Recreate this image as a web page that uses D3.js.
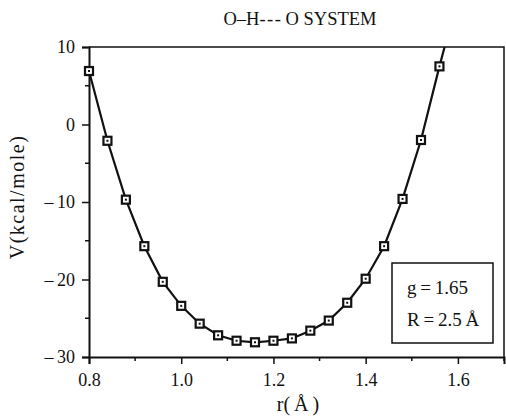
<!DOCTYPE html>
<html>
<head>
<meta charset="utf-8">
<script src="https://cdn.jsdelivr.net/npm/d3@7"></script>
<style>
  body { margin: 0; background: #fff; }
  svg { display: block; }
  svg text { font-family: "Liberation Serif", "Times New Roman", Times, "DejaVu Serif", serif; fill: #111; }
</style>
</head>
<body>
<div id="chart"></div>
<script>
// values
var rValues = [0.80, 0.84, 0.88, 0.92, 0.96, 1.00, 1.04, 1.08, 1.12, 1.16,
               1.20, 1.24, 1.28, 1.32, 1.36, 1.40, 1.44, 1.48, 1.52, 1.56];
var vValues = [6.9, -2.1, -9.7, -15.7, -20.3, -23.4, -25.7, -27.2, -27.9, -28.1,
               -27.9, -27.6, -26.6, -25.3, -23.0, -19.9, -15.7, -9.6, -2.0, 7.5];
// curve keeps going past the last marker, up out of the frame
var tailR = [1.56, 1.58];
var tailV = [7.5, 12.0];
var xTicks = [0.8, 1.0, 1.2, 1.4, 1.6];
var xMinor = [0.9, 1.1, 1.3, 1.5, 1.7];
var yTicks = [10, 0, -10, -20, -30];
var yMinor = [5, -5, -15, -25];
var legendLines = ["g\u2009=\u20091.65", "R\u2009=\u20092.5\u2009\u00c5"];

var W = 506, H = 417;
var margin = {top: 47, right: 2, bottom: 60, left: 89};

var svg = d3.select("#chart").append("svg")
    .attr("width", W)
    .attr("height", H);

var x = d3.scaleLinear().domain([0.8, 1.7]).range([margin.left, W - margin.right]);
var y = d3.scaleLinear().domain([-30, 10]).range([H - margin.bottom, margin.top]);

// frame top + right
svg.append("path")
    .attr("d", "M" + x(0.8) + "," + y(10) + "H" + x(1.7) + "V" + y(-30))
    .attr("fill", "none")
    .attr("stroke", "#111")
    .attr("stroke-width", 1.5);

// clip for the curve
svg.append("clipPath").attr("id", "plotclip")
  .append("rect")
    .attr("x", x(0.8) - 6).attr("y", y(10))
    .attr("width", x(1.7) - x(0.8) + 6).attr("height", y(-30) - y(10));

// x axis
var xAxis = svg.append("g")
    .attr("transform", "translate(0," + y(-30) + ")")
    .call(d3.axisBottom(x).tickValues(xTicks).tickSize(7).tickPadding(9)
        .tickFormat(d3.format(".1f")));
xAxis.append("g").selectAll("line")
    .data(xMinor).enter().append("line")
    .attr("x1", function(d) { return x(d); })
    .attr("x2", function(d) { return x(d); })
    .attr("y1", 0).attr("y2", 4)
    .attr("stroke", "#111").attr("stroke-width", 1.5);

// y axis
var yAxis = svg.append("g")
    .attr("transform", "translate(" + x(0.8) + ",0)")
    .call(d3.axisLeft(y).tickValues(yTicks).tickSize(7).tickPadding(7)
        .tickFormat(function(d) { return d < 0 ? "\u2013\u2009" + Math.abs(d) : d; }));
yAxis.append("g").selectAll("line")
    .data(yMinor).enter().append("line")
    .attr("y1", function(d) { return y(d); })
    .attr("y2", function(d) { return y(d); })
    .attr("x1", 0).attr("x2", -4)
    .attr("stroke", "#111").attr("stroke-width", 1.5);

svg.selectAll(".domain").attr("stroke", "#111").attr("stroke-width", 2);
svg.selectAll(".tick line").attr("stroke", "#111").attr("stroke-width", 1.5);
svg.selectAll(".tick text")
    .attr("font-size", "18px")
    .attr("fill", "#111");
xAxis.attr("font-family", null);
yAxis.attr("font-family", null);

// curve
var line = d3.line()
    .x(function(d) { return x(d[0]); })
    .y(function(d) { return y(d[1]); });

var pts = rValues.map(function(r, i) { return [r, vValues[i]]; });
var tail = tailR.map(function(r, i) { return [r, tailV[i]]; });

var g = svg.append("g").attr("clip-path", "url(#plotclip)");
g.append("path")
    .datum(pts)
    .attr("d", line)
    .attr("fill", "none")
    .attr("stroke", "#111")
    .attr("stroke-width", 2.2);
g.append("path")
    .datum(tail)
    .attr("d", line)
    .attr("fill", "none")
    .attr("stroke", "#111")
    .attr("stroke-width", 2.2);

// square markers with a dot inside
var m = svg.append("g").selectAll("g.mk")
    .data(pts).enter().append("g")
    .attr("class", "mk")
    .attr("transform", function(d) { return "translate(" + x(d[0]) + "," + y(d[1]) + ")"; });
m.append("rect")
    .attr("x", -4).attr("y", -4)
    .attr("width", 8).attr("height", 8)
    .attr("fill", "#fff")
    .attr("stroke", "#111")
    .attr("stroke-width", 2.2);
m.append("rect")
    .attr("x", -1).attr("y", -1)
    .attr("width", 2).attr("height", 2)
    .attr("fill", "#111");

// title
svg.append("text")
    .attr("x", 300).attr("y", 25)
    .attr("text-anchor", "middle")
    .attr("font-size", "18.5px")
    .text("O\u2013H-\u200a-\u200a- O SYSTEM");

// axis labels
svg.append("text")
    .attr("x", 298).attr("y", 411)
    .attr("text-anchor", "middle")
    .attr("font-size", "20px")
    .text("r(\u2009\u00c5\u2009)");

svg.append("text")
    .attr("transform", "translate(24,197) rotate(-90)")
    .attr("text-anchor", "middle")
    .attr("font-size", "20px")
    .attr("letter-spacing", "1.5px")
    .text("V(kcal/mole)");

// legend box
var lg = svg.append("g");
lg.append("rect")
    .attr("x", 392).attr("y", 263)
    .attr("width", 101).attr("height", 80)
    .attr("fill", "#fff")
    .attr("stroke", "#111")
    .attr("stroke-width", 1.5);
lg.selectAll("text")
    .data(legendLines).enter().append("text")
    .attr("x", 407)
    .attr("y", function(d, i) { return 294 + i * 32; })
    .attr("font-size", "19px")
    .text(function(d) { return d; });
</script>
</body>
</html>
